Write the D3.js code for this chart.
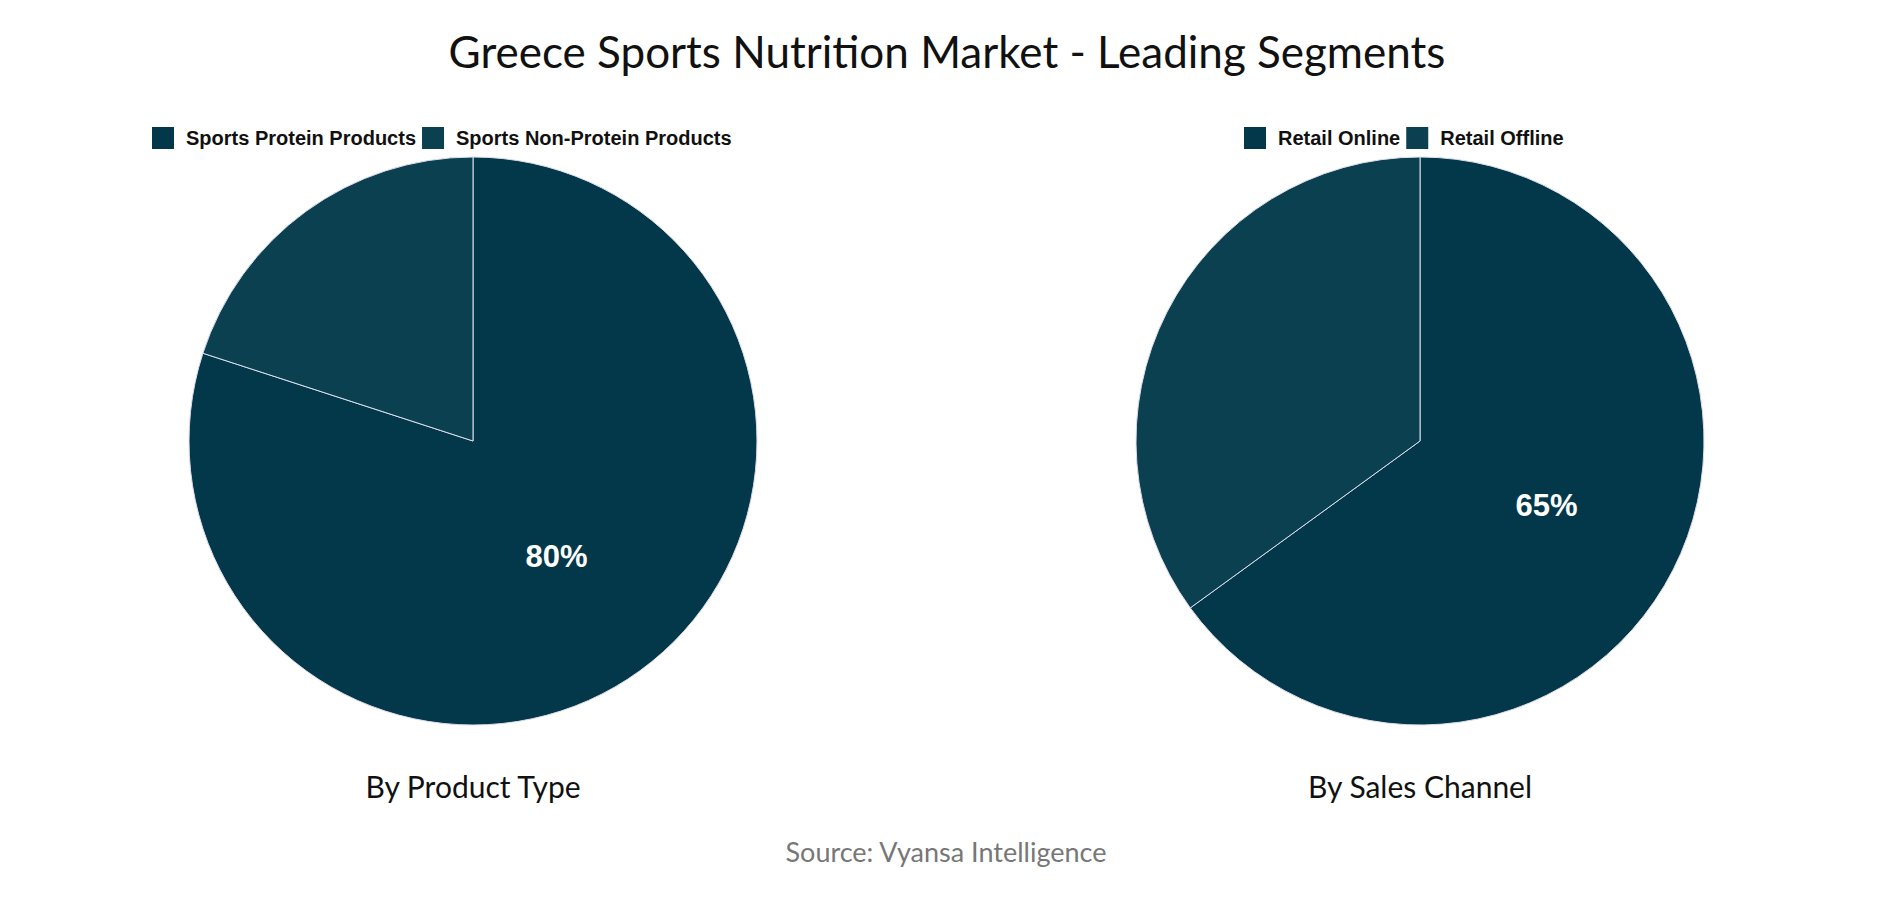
<!DOCTYPE html>
<html><head><meta charset="utf-8">
<script src="https://cdn.jsdelivr.net/npm/d3@7"></script>
<style>body{margin:0;background:#fff}</style>
</head><body><div id="chart"></div>
<script>
const productLabels = ["Sports Protein Products", "Sports Non-Protein Products"];
const productValues = [80, 20];
const channelLabels = ["Retail Online", "Retail Offline"];
const channelValues = [65, 35];
const colors = ["#03384a", "#0b4050"];

const width = 1894, height = 900, radius = 284;
const svg = d3.select("#chart").append("svg").attr("width", width).attr("height", height);

svg.append("text").attr("x", width / 2).attr("y", 68).attr("text-anchor", "middle")
  .style("font-family", "Lato, 'Open Sans', sans-serif").style("font-size", "44px").attr("fill", "#111")
  .text("Greece Sports Nutrition Market - Leading Segments");

svg.append("text").attr("x", 946).attr("y", 862).attr("text-anchor", "middle")
  .style("font-family", "Lato, 'Open Sans', sans-serif").style("font-size", "27px").attr("fill", "#777")
  .text("Source: Vyansa Intelligence");

function drawPie(cx, labels, values, title, legendX) {
  const g = svg.append("g").attr("transform", `translate(${cx},441)`);
  const arcs = d3.pie().sort(null)(values);
  const arc = d3.arc().innerRadius(0).outerRadius(radius);
  g.selectAll("path").data(arcs).join("path")
    .attr("d", arc).attr("fill", (d, i) => colors[i])
    .attr("stroke", "#dde").attr("stroke-width", 1);
  const la = d3.arc().innerRadius(radius * 0.5).outerRadius(radius * 0.5);
  const d0 = arcs[0];
  g.append("text").attr("transform", `translate(${la.centroid(d0)})`)
    .attr("text-anchor", "middle").attr("dy", "0.35em")
    .style("font-family", "'Liberation Sans', Arial, sans-serif").style("font-weight", "bold")
    .style("font-size", "31px").attr("fill", "#fff").text(values[0] + "%");

  svg.append("text").attr("x", cx).attr("y", 798).attr("text-anchor", "middle")
    .style("font-family", "Lato, 'Open Sans', sans-serif").style("font-size", "30px").attr("fill", "#111")
    .text(title);

  const lg = svg.append("g").attr("transform", `translate(${legendX},127)`);
  let x = 0;
  labels.forEach((l, i) => {
    lg.append("rect").attr("x", x).attr("y", 0).attr("width", 22).attr("height", 22).attr("fill", colors[i]);
    const t = lg.append("text").attr("x", x + 34).attr("y", 18)
      .style("font-family", "'Liberation Sans', Arial, sans-serif").style("font-weight", "bold")
      .style("font-size", "20px").attr("fill", "#111").text(l);
    x += 34 + t.node().getComputedTextLength() + 6;
  });
}

drawPie(473, productLabels, productValues, "By Product Type", 152);
drawPie(1420, channelLabels, channelValues, "By Sales Channel", 1244);
</script></body></html>
